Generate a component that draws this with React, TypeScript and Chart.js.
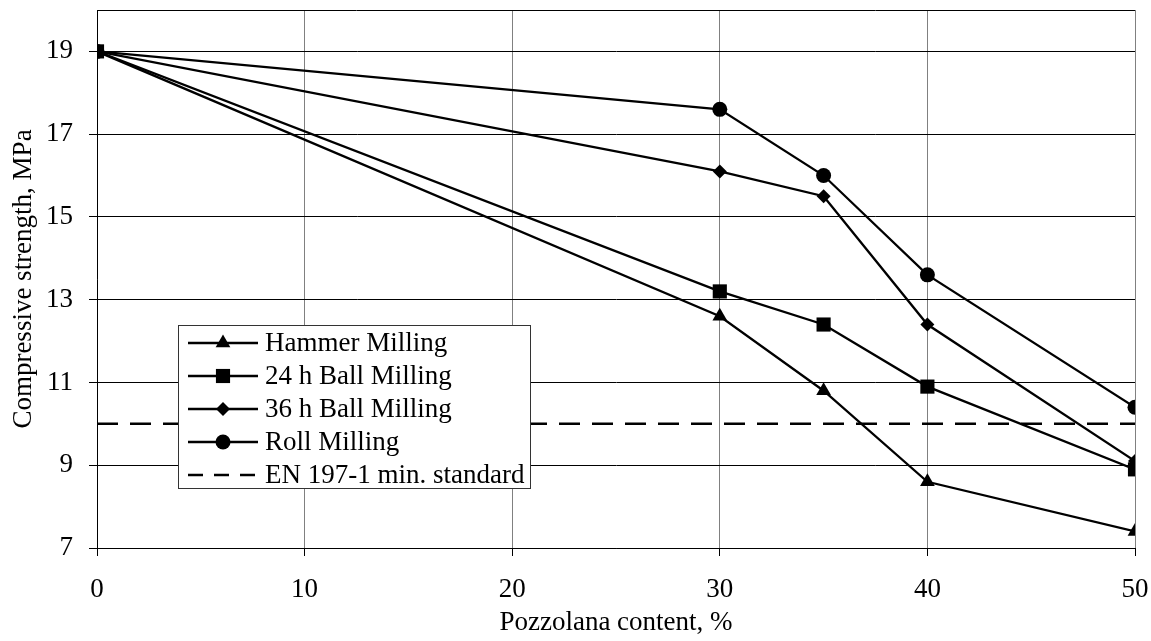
import { useEffect, useRef } from 'react';
import { Chart, registerables } from 'chart.js';

Chart.register(...registerables);

// Pozzolana content (%) and compressive strength (MPa) per milling method
const contents = [0, 30, 35, 40, 50];
const hammerMilling = [19, 12.6, 10.8, 8.6, 7.4];
const ballMilling24 = [19, 13.2, 12.4, 10.9, 8.9];
const ballMilling36 = [19, 16.1, 15.5, 12.4, 9.1];
const rollMilling = [19, 17.6, 16.0, 13.6, 10.4];
const standardX = [0, 50];
const standardY = [10, 10];

const yTicks = [7, 9, 11, 13, 15, 17, 19];
const xTicks = [0, 10, 20, 30, 40, 50];

const FONT = '"Liberation Serif", "Times New Roman", serif';
const FONT_SIZE = 27;

const toPoints = (xs: number[], ys: number[]) => xs.map((x, i) => ({ x, y: ys[i] }));

// Boxed legend placed inside the plot area, lower-left
const insideLegend = {
  id: 'insideLegend',
  afterDraw(chart: any) {
    const { ctx } = chart;
    const left = 178;
    const top = 325;
    const width = 352;
    const height = 163;
    const rowH = 33;
    ctx.save();
    ctx.fillStyle = '#fff';
    ctx.fillRect(left, top, width, height);
    ctx.strokeStyle = '#333';
    ctx.lineWidth = 1;
    ctx.strokeRect(left + 0.5, top + 0.5, width, height);
    chart.data.datasets.forEach((ds: any, i: number) => {
      const cy = top + 18 + i * rowH;
      const x0 = left + 10;
      const x1 = left + 80;
      ctx.strokeStyle = '#000';
      ctx.lineWidth = ds.borderWidth;
      ctx.setLineDash(ds.borderDash ? [15, 11] : []);
      ctx.beginPath();
      ctx.moveTo(x0, cy);
      ctx.lineTo(x1, cy);
      ctx.stroke();
      ctx.setLineDash([]);
      if (ds.pointRadius > 0) {
        const cx = (x0 + x1) / 2;
        const r = ds.pointRadius;
        ctx.fillStyle = '#000';
        ctx.beginPath();
        if (ds.pointStyle === 'triangle') {
          for (let k = 0; k < 3; k++) {
            const a = (k * 2 * Math.PI) / 3;
            const px = cx + Math.sin(a) * r;
            const py = cy - Math.cos(a) * r;
            if (k === 0) ctx.moveTo(px, py); else ctx.lineTo(px, py);
          }
          ctx.closePath();
        } else if (ds.pointStyle === 'rect') {
          const s = r * Math.SQRT1_2;
          ctx.rect(cx - s, cy - s, 2 * s, 2 * s);
        } else if (ds.pointStyle === 'rectRot') {
          ctx.moveTo(cx - r, cy);
          ctx.lineTo(cx, cy - r);
          ctx.lineTo(cx + r, cy);
          ctx.lineTo(cx, cy + r);
          ctx.closePath();
        } else {
          ctx.arc(cx, cy, r, 0, Math.PI * 2);
        }
        ctx.fill();
      }
      ctx.fillStyle = '#000';
      ctx.font = `${FONT_SIZE}px ${FONT}`;
      ctx.textBaseline = 'middle';
      ctx.textAlign = 'left';
      ctx.fillText(ds.label, x1 + 7, cy + 1);
    });
    ctx.restore();
  },
};

// Top edge of the plot frame
const topFrame = {
  id: 'topFrame',
  afterDraw(chart: any) {
    const { ctx, chartArea } = chart;
    ctx.save();
    ctx.strokeStyle = '#000';
    ctx.lineWidth = 1;
    ctx.beginPath();
    ctx.moveTo(chartArea.left, chartArea.top + 0.5);
    ctx.lineTo(chartArea.right, chartArea.top + 0.5);
    ctx.stroke();
    ctx.restore();
  },
};

export default function App() {
  const canvasRef = useRef<HTMLCanvasElement | null>(null);

  useEffect(() => {
    if (!canvasRef.current) return;
    const line = (label: string, ys: number[], pointStyle: string, radius: number) => ({
      label,
      data: toPoints(contents, ys),
      borderColor: '#000',
      backgroundColor: '#000',
      borderWidth: 2.3,
      pointStyle,
      pointRadius: radius,
      pointHoverRadius: radius,
      pointBackgroundColor: '#000',
      pointBorderColor: '#000',
      pointBorderWidth: 0,
      tension: 0,
    });
    const chart = new Chart(canvasRef.current, {
      type: 'line',
      data: {
        datasets: [
          line('Hammer Milling', hammerMilling, 'triangle', 8.5),
          line('24 h Ball Milling', ballMilling24, 'rect', 10),
          line('36 h Ball Milling', ballMilling36, 'rectRot', 7),
          line('Roll Milling', rollMilling, 'circle', 7.5),
          {
            label: 'EN 197-1 min. standard',
            data: toPoints(standardX, standardY),
            borderColor: '#000',
            borderWidth: 2.5,
            borderDash: [21, 12],
            pointRadius: 0,
            tension: 0,
          } as any,
        ],
      },
      options: {
        responsive: false,
        animation: false,
        layout: { padding: { top: 8, right: 16, left: 0, bottom: 0 } },
        plugins: {
          legend: { display: false },
          tooltip: { enabled: false },
        },
        scales: {
          x: {
            type: 'linear',
            min: 0,
            max: 50,
            afterBuildTicks: (scale: any) => {
              scale.ticks = xTicks.map((v) => ({ value: v }));
            },
            afterFit: (scale: any) => {
              scale.height = 93;
              scale.paddingLeft = 0;
              scale.paddingRight = 0;
            },
            grid: {
              color: '#808080',
              lineWidth: 1,
              tickColor: '#000',
              tickLength: 8,
              drawTicks: true,
            },
            border: { color: '#000', width: 1 },
            ticks: {
              color: '#000',
              font: { family: FONT, size: FONT_SIZE },
              padding: 18,
              maxRotation: 0,
            },
            title: {
              display: true,
              text: 'Pozzolana content, %',
              color: '#000',
              font: { family: FONT, size: FONT_SIZE },
              padding: { top: 0, bottom: 2 },
            },
          },
          y: {
            type: 'linear',
            min: 7,
            max: 20,
            afterBuildTicks: (scale: any) => {
              scale.ticks = yTicks.map((v) => ({ value: v }));
            },
            afterFit: (scale: any) => {
              scale.width = 97;
              scale.paddingTop = 0;
              scale.paddingBottom = 0;
            },
            grid: {
              color: '#000',
              lineWidth: 1,
              tickColor: '#000',
              tickLength: 8,
              drawTicks: true,
            },
            border: { color: '#000', width: 1 },
            ticks: {
              color: '#000',
              font: { family: FONT, size: FONT_SIZE },
              padding: 16,
            },
            title: {
              display: true,
              text: 'Compressive strength, MPa',
              color: '#000',
              font: { family: FONT, size: FONT_SIZE },
              padding: { top: 8, bottom: 0 },
            },
          },
        },
      },
      plugins: [topFrame, insideLegend],
    });
    return () => chart.destroy();
  }, []);

  return (
    <div style={{ position: 'absolute', left: 0, top: 0, width: 1151, height: 641, background: '#fff' }}>
      <canvas ref={canvasRef} width={1151} height={641} />
    </div>
  );
}
